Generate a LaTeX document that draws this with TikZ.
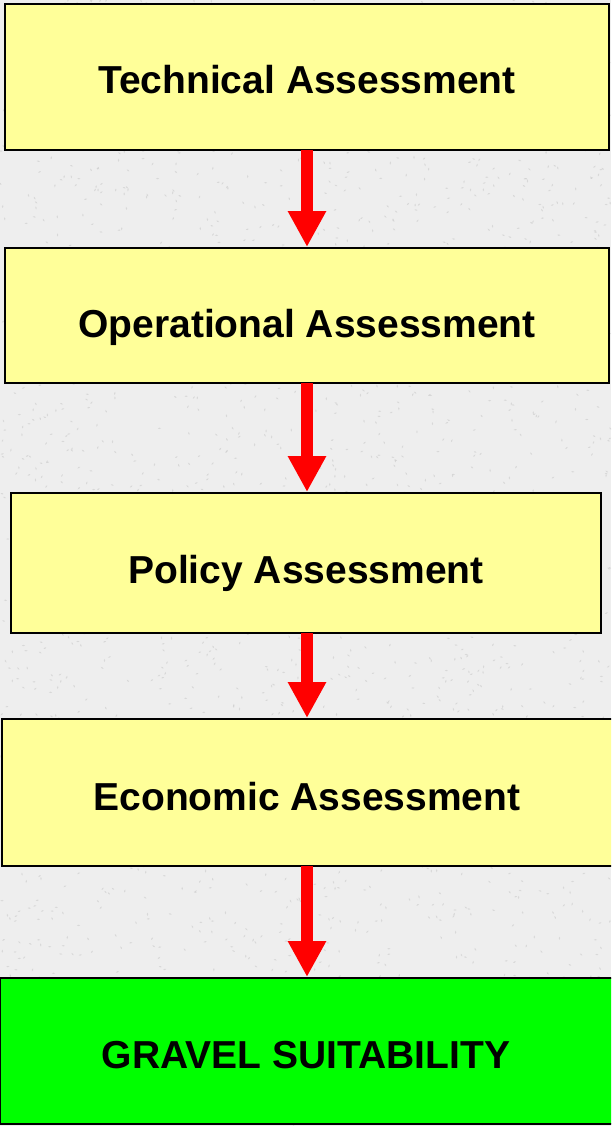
\documentclass[tikz,border=0pt]{standalone}
\usepackage{fontspec}
\setmainfont{Liberation Sans}
\usetikzlibrary{arrows.meta}
\definecolor{bgpaper}{RGB}{238,238,238}
\definecolor{bgspeck}{RGB}{208,208,208}
\definecolor{boxyellow}{RGB}{255,255,153}
\definecolor{boxgreen}{RGB}{0,255,0}
\definecolor{arrowred}{RGB}{255,0,0}
\tikzset{
  stagebox/.style={draw=black, line width=2pt, fill=boxyellow, inner sep=0pt, rectangle},
  resultbox/.style={stagebox, fill=boxgreen},
  stagetext/.style={anchor=base, inner sep=0pt, font=\fontsize{39}{46}\selectfont\bfseries},
  flowarrow/.style={draw=arrowred, line width=12pt, -{Triangle[width=36pt,length=36pt]}, arrowred, shorten <=-1pt},
}
\begin{document}
\begin{tikzpicture}[x=1pt,y=-1pt]
  \useasboundingbox (0,0) rectangle (611,1126);
  \clip (0,0) rectangle (611,1126);
  \fill[bgpaper] (0,0) rectangle (611,1126);
  \pgfmathsetseed{4242}
  \foreach \k in {1,...,2600} {
    \pgfmathsetmacro{\rx}{rnd*611}
    \pgfmathsetmacro{\ry}{rnd*1126}
    \pgfmathsetmacro{\ra}{rnd*180}
    \fill[bgspeck, opacity=0.7] (\rx,\ry) ellipse[x radius=1.6pt, y radius=0.7pt, rotate=\ra];
  }

  \node[stagebox, minimum width=604pt, minimum height=146pt] (b1) at (307,77) {};
  \node[stagebox, minimum width=604pt, minimum height=135pt] (b2) at (307,315.5) {};
  \node[stagebox, minimum width=590pt, minimum height=140pt] (b3) at (306,563) {};
  \node[stagebox, minimum width=612pt, minimum height=147pt] (b4) at (308,792.5) {};
  \node[resultbox, minimum width=614pt, minimum height=146pt] (b5) at (307,1051) {};

  \node[stagetext] (t1) at (307,94) {Technical Assessment};
  \node[stagetext] (t2) at (307,337) {Operational Assessment};
  \node[stagetext] (t3) at (306,583) {Policy Assessment};
  \node[stagetext] (t4) at (307,810) {Economic Assessment};
  \node[stagetext] (t5) at (306,1068) {GRAVEL SUITABILITY};

  \draw[flowarrow] (b1.south -| 307,0) -- (b2.north -| 307,0);
  \draw[flowarrow] (b2.south -| 307,0) -- (b3.north -| 307,0);
  \draw[flowarrow] (b3.south -| 307,0) -- (b4.north -| 307,0);
  \draw[flowarrow] (b4.south -| 307,0) -- (b5.north -| 307,0);
\end{tikzpicture}
\end{document}
